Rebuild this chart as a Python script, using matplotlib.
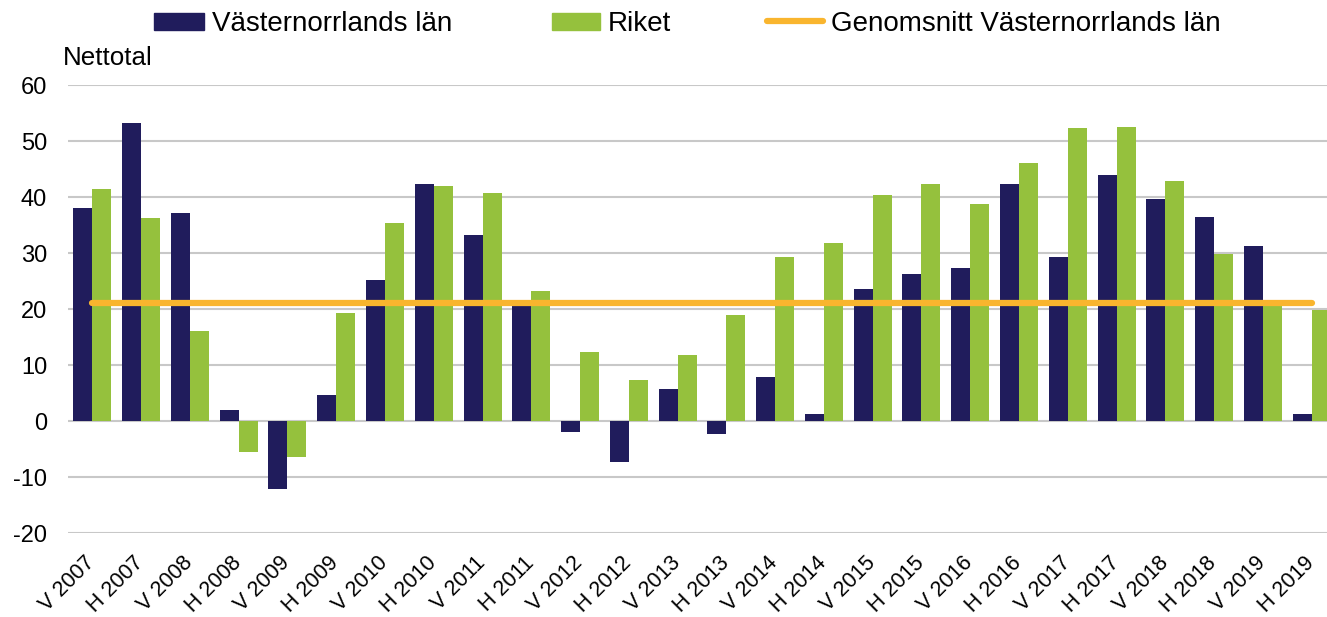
import matplotlib
matplotlib.use("Agg")
import matplotlib.pyplot as plt
from matplotlib.patches import Patch
from matplotlib.lines import Line2D
import matplotlib.transforms as mtransforms
import numpy as np

plt.rcParams['font.family'] = ['Liberation Sans', 'DejaVu Sans']
plt.rcParams['axes.unicode_minus'] = False

categories = ["V 2007", "H 2007", "V 2008", "H 2008", "V 2009", "H 2009",
              "V 2010", "H 2010", "V 2011", "H 2011", "V 2012", "H 2012",
              "V 2013", "H 2013", "V 2014", "H 2014", "V 2015", "H 2015",
              "V 2016", "H 2016", "V 2017", "H 2017", "V 2018", "H 2018",
              "V 2019", "H 2019"]
vasternorrland = [38.0, 53.2, 37.2, 2.0, -12.2, 4.7, 25.2, 42.3, 33.3, 20.6,
                  -1.9, -7.4, 5.8, -2.4, 7.9, 1.25, 23.5, 26.2, 27.4, 42.3,
                  29.2, 44.0, 39.7, 36.5, 31.2, 1.25]
riket = [41.5, 36.3, 16.1, -5.5, -6.4, 19.3, 35.4, 42.0, 40.8, 23.2,
         12.4, 7.4, 11.8, 18.9, 29.2, 31.7, 40.4, 42.4, 38.8, 46.1,
         52.3, 52.5, 42.9, 29.9, 20.8, 19.8]
genomsnitt = 21.1

navy = "#201C5C"
green = "#95C13D"
orange = "#F9B52E"

W, H = 1327, 617
fig = plt.figure(figsize=(W / 100, H / 100), dpi=100)
ax = fig.add_axes([68 / W, 1 - 533 / H, (1336 - 68) / W, (533 - 85) / H])

x = np.arange(len(categories))
bw = 0.39
ax.bar(x - bw / 2, vasternorrland, width=bw, color=navy, zorder=2)
ax.bar(x + bw / 2, riket, width=bw, color=green, zorder=2)
ax.plot([x[0], x[-1]], [genomsnitt, genomsnitt], color=orange, lw=4.5,
        solid_capstyle='round', zorder=3)

ax.set_xlim(-0.5, len(categories) - 0.5)
ax.set_ylim(-20, 60)
ax.set_yticks(range(-20, 61, 10))
ax.yaxis.grid(True, color="#C8C8C8", lw=1.5, zorder=0)
ax.set_axisbelow(True)
for s in ax.spines.values():
    s.set_visible(False)
ax.tick_params(axis='both', length=0)
ax.tick_params(axis='y', pad=15, labelsize=17)
ax.set_xticks(x)
ax.set_xticklabels(categories, rotation=45, ha='right', va='top',
                   rotation_mode='default', fontsize=15.5)
ax.tick_params(axis='x', pad=14)
offset = mtransforms.ScaledTranslation(7 / 100, 0, fig.dpi_scale_trans)
for lab in ax.get_xticklabels():
    lab.set_transform(lab.get_transform() + offset)

fig.text(63 / W, 1 - 58 / H, "Nettotal", fontsize=18.7, va='center', ha='left')

common = dict(frameon=False, fontsize=20, handletextpad=0.29,
              borderaxespad=0, borderpad=0, loc='center left')
fig.legend(handles=[Patch(color=navy)], labels=["Västernorrlands län"],
           bbox_to_anchor=(154 / W, 1 - 24 / H), handlelength=1.8,
           handleheight=0.58, **common)
fig.legend(handles=[Patch(color=green)], labels=["Riket"],
           bbox_to_anchor=(552 / W, 1 - 24 / H), handlelength=1.73,
           handleheight=0.58, **common)
fig.legend(handles=[Line2D([], [], color=orange, lw=4.5, solid_capstyle='round')],
           labels=["Genomsnitt Västernorrlands län"],
           bbox_to_anchor=(767 / W, 1 - 24 / H), handlelength=2.0, **common)

fig.savefig("out.png", dpi=100)
